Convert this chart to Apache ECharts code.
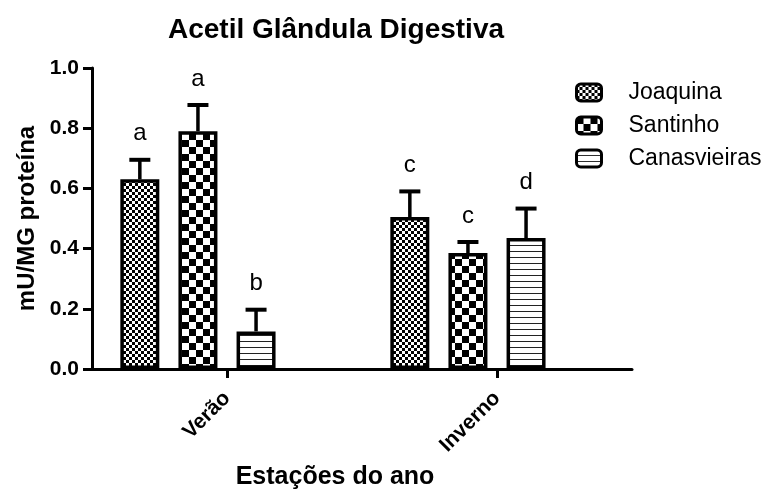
<!DOCTYPE html>
<html><head><meta charset="utf-8">
<script src="https://cdn.jsdelivr.net/npm/echarts@6/dist/echarts.min.js"></script>
<style>html,body{margin:0;padding:0;background:#fff}#c{width:771px;height:495px}</style>
</head><body><div id="c"></div>
<script>
const categories = ['Verão', 'Inverno'];
const seriesNames = ['Joaquina', 'Santinho', 'Canasvieiras'];
const joaquina = [0.63, 0.505];
const santinho = [0.79, 0.385];
const canasvieiras = [0.125, 0.435];
const joaquinaErr = [0.695, 0.59];
const santinhoErr = [0.877, 0.422];
const canasvieirasErr = [0.197, 0.533];
const joaquinaLetters = ['a', 'c'];
const santinhoLetters = ['a', 'c'];
const canasvieirasLetters = ['b', 'd'];
const yTicks = [0, 0.2, 0.4, 0.6, 0.8, 1.0];

function makePattern(type) {
  const c = document.createElement('canvas');
  const ctx = c.getContext('2d');
  if (type === 'fine') {
    c.width = 6; c.height = 6;
    ctx.fillStyle = '#fff'; ctx.fillRect(0, 0, 6, 6);
    ctx.fillStyle = '#000';
    ctx.fillRect(0, 0, 3, 3); ctx.fillRect(3, 3, 3, 3);
  } else if (type === 'coarse') {
    c.width = 14; c.height = 14;
    ctx.fillStyle = '#fff'; ctx.fillRect(0, 0, 14, 14);
    ctx.fillStyle = '#000';
    ctx.fillRect(0, 0, 7, 7); ctx.fillRect(7, 7, 7, 7);
  } else {
    c.width = 4; c.height = 6;
    ctx.fillStyle = '#fff'; ctx.fillRect(0, 0, 4, 6);
    ctx.fillStyle = '#222';
    ctx.fillRect(0, 5, 4, 1);
  }
  return { image: c, repeat: 'repeat' };
}
const patterns = [makePattern('fine'), makePattern('coarse'), makePattern('lines')];
const values = [joaquina, santinho, canasvieiras];
const errs = [joaquinaErr, santinhoErr, canasvieirasErr];
const letters = [joaquinaLetters, santinhoLetters, canasvieirasLetters];

const BAR_W = 39;
const BAR_GAP = 0.49; // fraction of bar width
const N_SLOTS = 4; // three series + one empty slot (bars sit left of tick, as in the original)

const barSeries = seriesNames.map((name, i) => ({
  name: name,
  type: 'bar',
  data: values[i],
  barWidth: BAR_W,
  barGap: (BAR_GAP * 100) + '%',
  itemStyle: { color: patterns[i], borderColor: '#000', borderWidth: 3.5 },
  emphasis: { disabled: true },
  silent: true,
  z: 2
}));
barSeries.push({
  name: 'spacer', type: 'bar', data: [null, null], barWidth: BAR_W,
  barGap: (BAR_GAP * 100) + '%', silent: true
});

const errData = [];
for (let s = 0; s < 3; s++) {
  for (let k = 0; k < categories.length; k++) {
    errData.push([k, values[s][k], errs[s][k], s, letters[s][k]]);
  }
}

const errSeries = {
  type: 'custom',
  data: errData,
  silent: true,
  z: 5,
  renderItem: function (params, api) {
    const k = api.value(0), v = api.value(1), e = api.value(2), s = api.value(3);
    const letter = errData[params.dataIndex][4];
    const center = api.coord([k, v]);
    const gapPx = BAR_W * BAR_GAP;
    const total = N_SLOTS * BAR_W + (N_SLOTS - 1) * gapPx;
    const x = center[0] - total / 2 + s * (BAR_W + gapPx) + BAR_W / 2;
    const yTop = api.coord([k, e])[1];
    const yBar = center[1];
    return {
      type: 'group',
      children: [
        { type: 'line', shape: { x1: x, y1: yBar, x2: x, y2: yTop }, style: { stroke: '#000', lineWidth: 3.5 } },
        { type: 'line', shape: { x1: x - 10.5, y1: yTop, x2: x + 10.5, y2: yTop }, style: { stroke: '#000', lineWidth: 4 } },
        { type: 'text', x: x, y: yTop - 14, style: { text: letter, fill: '#000', font: '24px "Liberation Sans", Arial, sans-serif', textAlign: 'center', textVerticalAlign: 'bottom' } }
      ]
    };
  }
};

const chart = echarts.init(document.getElementById('c'), null, { renderer: 'canvas' });
chart.setOption({
  animation: false,
  backgroundColor: '#fff',
  title: {
    text: 'Acetil Glândula Digestiva',
    left: 331, top: 11, textAlign: 'center',
    textStyle: { fontFamily: 'Liberation Sans', fontWeight: 'bold', fontSize: 28, color: '#000' }
  },
  legend: {
    data: seriesNames,
    orient: 'vertical',
    left: 570, top: 76,
    itemWidth: 25, itemHeight: 17, itemGap: 10,
    itemStyle: { borderColor: '#000', borderWidth: 3 },
    textStyle: { fontFamily: 'Liberation Sans', fontSize: 23, lineHeight: 23, color: '#000', padding: [0, 0, 0, 22] },
    selectedMode: false
  },
  grid: { left: 92, right: 139, top: 68, bottom: 124 },
  xAxis: {
    type: 'category',
    data: categories,
    axisLine: { lineStyle: { color: '#000', width: 3 } },
    axisTick: { show: true, interval: 0, alignWithLabel: true, length: 9, lineStyle: { color: '#000', width: 3 } },
    axisLabel: { interval: 0, rotate: 45, margin: 26, fontFamily: 'Liberation Sans', fontWeight: 'bold', fontSize: 21, color: '#000' },
    name: 'Estações do ano',
    nameLocation: 'middle',
    nameGap: 96,
    nameTextStyle: { fontFamily: 'Liberation Sans', fontWeight: 'bold', fontSize: 25, color: '#000', padding: [0, 54, 0, 0] }
  },
  yAxis: {
    type: 'value',
    min: 0, max: 1.0, interval: 0.2,
    axisLine: { show: true, lineStyle: { color: '#000', width: 3 } },
    axisTick: { show: true, length: 9, lineStyle: { color: '#000', width: 3 } },
    splitLine: { show: false },
    axisLabel: { margin: 13, fontFamily: 'Liberation Sans', fontWeight: 'bold', fontSize: 21, color: '#000',
      formatter: v => yTicks.some(t => Math.abs(t - v) < 1e-9) ? v.toFixed(1) : '' },
    name: 'mU/MG proteína',
    nameLocation: 'middle',
    nameGap: 45,
    nameTextStyle: { fontFamily: 'Liberation Sans', fontWeight: 'bold', fontSize: 24, color: '#000' }
  },
  series: barSeries.concat([errSeries])
});
</script>
</body></html>
